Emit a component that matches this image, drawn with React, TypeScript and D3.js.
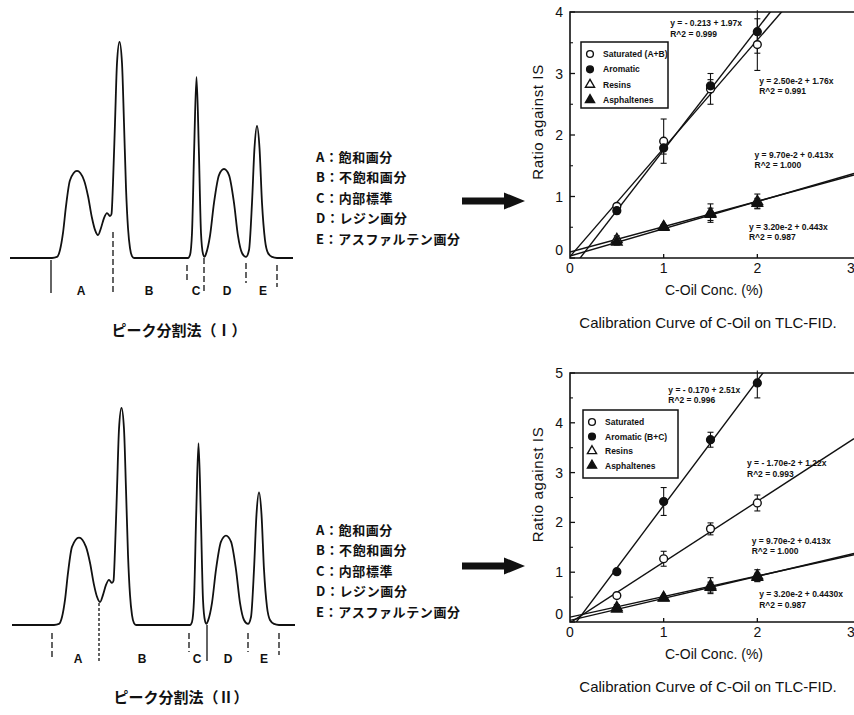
import React from "react";
import * as d3 from "d3";

// chromatogram trace: [retention, signal] (B peak = 100)
const trace: [number, number][] = [
  [0, 0], [42, 0], [47, 0.5], [50, 3.7], [53, 11.6], [56, 24], [60, 36], [67, 40.3],
  [74, 36], [78, 28.7], [82, 18.5], [85, 13], [88, 10.6], [91, 13.9], [94, 18.5],
  [97, 20.8], [100, 19.4], [101.5, 20.4], [103, 34.7], [105, 62.5], [107, 90.3],
  [109.5, 100], [112, 90.3], [114, 62.5], [116, 32.4], [118, 13.9], [120, 4.6],
  [122, 0.9], [124, 0], [178, 0], [180, 1.4], [182, 11.6], [184.2, 51], [186.5, 83.8],
  [188.8, 51], [191, 11.6], [193, 1.9], [194.5, 0.5], [196, 1.9], [200, 10.2],
  [204, 25.5], [209, 38.4], [214, 41.2], [219, 38.4], [224, 25.5], [228, 10.2],
  [232, 2.3], [236, 0.5], [239, 3.7], [242, 25.5], [244.5, 51], [247, 61.1],
  [249.5, 51], [252, 25.5], [255, 8.3], [258, 2.3], [262, 0.5], [267, 0], [283, 0],
];

const fractionLetters = ["A", "B", "C", "D", "E"];
const fractionNames = ["飽和画分", "不飽和画分", "内部標準", "レジン画分", "アスファルテン画分"];

// cut marks: [retention, from signal, to signal, dash]
const cutsI: [number, number, number, string][] = [
  [41, -0.9, -16.2, ""], [103, 12, -16.2, "6,3"], [177, -3.2, -11.6, "6,3"],
  [194, 0, -16.2, "6,3"], [236, -2.3, -11.6, "6,3"], [267, -3.2, -13.4, "6,3"],
];
const cutsII: [number, number, number, string][] = [
  [40, -3.7, -15.2, "6,3"], [87, 10.1, -17.1, "3,2"], [177, -3.7, -12.4, "6,3"],
  [195, 0, -16.6, ""], [236, -3.7, -12.4, "6,3"], [267, -3.7, -13.8, "6,3"],
];
const letterPosI = [71, 139, 186, 217, 253];
const letterPosII = [66, 130, 185, 216, 252];

// calibration data
const conc = [0.5, 1, 1.5, 2];
const namesI = ["Saturated (A+B)", "Aromatic", "Resins", "Asphaltenes"];
const namesII = ["Saturated", "Aromatic (B+C)", "Resins", "Asphaltenes"];

const satI = [0.84, 1.9, 2.75, 3.47];
const satErrI = [0.04, 0.36, 0.25, 0.42];
const aroI = [0.77, 1.79, 2.8, 3.68];
const aroErrI = [0.05, 0.1, 0.1, 0.35];
const resI = [0.3, 0.51, 0.73, 0.92];
const resErrI = [0.06, 0.03, 0.15, 0.12];
const aspI = [0.26, 0.5, 0.71, 0.89];
const aspErrI = [0.05, 0.03, 0.1, 0.08];
const fitsI = [[-0.213, 1.97], [0.025, 1.76], [0.097, 0.413], [0.032, 0.443]];
const eqTextI = [
  ["y = - 0.213 + 1.97x", "R^2 = 0.999"],
  ["y = 2.50e-2 + 1.76x", "R^2 = 0.991"],
  ["y = 9.70e-2 + 0.413x", "R^2 = 1.000"],
  ["y = 3.20e-2 + 0.443x", "R^2 = 0.987"],
];
const eqPosI = [[1.07, 3.77], [2.02, 2.83], [1.97, 1.63], [1.91, 0.46]];

const satII = [0.53, 1.27, 1.87, 2.39];
const satErrII = [0.03, 0.15, 0.12, 0.16];
const aroII = [1.01, 2.42, 3.66, 4.8];
const aroErrII = [0.03, 0.28, 0.15, 0.3];
const resII = [0.29, 0.49, 0.73, 0.93];
const resErrII = [0.06, 0.03, 0.16, 0.12];
const aspII = [0.26, 0.48, 0.7, 0.9];
const aspErrII = [0.04, 0.03, 0.1, 0.08];
const fitsII = [[-0.17, 2.51], [-0.017, 1.22], [0.097, 0.413], [0.032, 0.443]];
const eqTextII = [
  ["y = - 0.170 + 2.51x", "R^2 = 0.996"],
  ["y = - 1.70e-2 + 1.22x", "R^2 = 0.993"],
  ["y = 9.70e-2 + 0.413x", "R^2 = 1.000"],
  ["y = 3.20e-2 + 0.4430x", "R^2 = 0.987"],
];
const eqPosII = [[1.05, 4.6], [1.89, 3.13], [1.94, 1.57], [2.02, 0.5]];

const markerKinds = ["circle-open", "circle", "triangle-open", "triangle"];

const EN = "'Liberation Sans', Arial, Helvetica, sans-serif";
const JP = "'Noto Sans CJK JP', 'Noto Sans CJK SC', sans-serif";
const INK = "#111";

const Marker = ({ kind, cx, cy, size = 48 }: any) => {
  const type = kind.startsWith("circle") ? d3.symbolCircle : d3.symbolTriangle;
  const open = kind.endsWith("open");
  return (
    <path
      d={d3.symbol().type(type).size(size)() as string}
      transform={`translate(${cx},${cy})`}
      fill={open ? "#fff" : INK}
      stroke={INK}
      strokeWidth={1.4}
    />
  );
};

const Chromatogram = ({ base, left, right, top, cuts, letterPos, caption, captionX, captionY }: any) => {
  const x = d3.scaleLinear().domain([0, 283]).range([left, right]);
  const y = d3.scaleLinear().domain([0, 100]).range([base, top]);
  const line = d3
    .line<[number, number]>()
    .x((d) => x(d[0]))
    .y((d) => y(d[1]))
    .curve(d3.curveMonotoneX);
  return (
    <g>
      <path d={line(trace) as string} fill="none" stroke={INK} strokeWidth={1.8} strokeLinejoin="round" />
      {cuts.map((c: any, i: number) => (
        <line key={i} x1={x(c[0])} x2={x(c[0])} y1={y(c[1])} y2={y(c[2])}
          stroke={INK} strokeWidth={1.3} strokeDasharray={c[3] || undefined} />
      ))}
      {fractionLetters.map((l, i) => (
        <text key={l} x={x(letterPos[i])} y={y(-17.3)} textAnchor="middle"
          fontFamily={EN} fontWeight="bold" fontSize={12} fill={INK}>{l}</text>
      ))}
      <text x={captionX} y={captionY} textAnchor="middle" fontFamily={JP}
        fontWeight="bold" fontSize={15} fill={INK}>{caption}</text>
    </g>
  );
};

const FractionList = ({ x0, y0 }: any) => (
  <g fontFamily={JP} fontSize={13} fontWeight="bold" fill={INK}>
    {fractionLetters.map((l, i) => (
      <text key={l} x={x0} y={y0 + i * 20.4} letterSpacing={0.6}>
        {l}：{fractionNames[i]}
      </text>
    ))}
  </g>
);

const Arrow = ({ x0, y }: any) => (
  <path
    d={`M${x0},${y - 3.5} L${x0 + 42},${y - 3.5} L${x0 + 42},${y - 8.5} L${x0 + 63},${y} L${x0 + 42},${y + 8.5} L${x0 + 42},${y + 3.5} L${x0},${y + 3.5} Z`}
    fill={INK}
  />
);

const Calib = ({ id, yMax, yBottom, yTop, ys, errs, fits, eqText, eqPos, names, legend }: any) => {
  const x = d3.scaleLinear().domain([0, 3]).range([570, 851]);
  const y = d3.scaleLinear().domain([0, yMax]).range([yBottom, yTop]);
  const xEnd = x.invert(854);
  const majors = d3.range(0, yMax + 1);
  const minors = d3.range(0.5, yMax, 1);
  const fitLine = (f: number[]) =>
    d3.line<number>().x((v) => x(v)).y((v) => y(f[0] + f[1] * v))([0, xEnd]) as string;
  const midY = (yTop + yBottom) / 2;
  return (
    <g>
      <defs>
        <clipPath id={id}>
          <rect x={570} y={yTop} width={284} height={yBottom - yTop} />
        </clipPath>
      </defs>
      {/* frame */}
      <path d={`M854,${yTop} H570 V${yBottom} H854`} fill="none" stroke={INK} strokeWidth={1.6} />
      {majors.map((v: number) => (
        <line key={"m" + v} x1={570} x2={575} y1={y(v)} y2={y(v)} stroke={INK} strokeWidth={1.3} />
      ))}
      {minors.map((v: number) => (
        <line key={"n" + v} x1={570} x2={573} y1={y(v)} y2={y(v)} stroke={INK} strokeWidth={1.1} />
      ))}
      {[1, 2].map((v) => (
        <line key={"x" + v} x1={x(v)} x2={x(v)} y1={yBottom} y2={yBottom - 4} stroke={INK} strokeWidth={1.3} />
      ))}
      {majors.map((v: number) => (
        <text key={"t" + v} x={563} y={v === 0 ? y(v) - 3 : y(v) + 5} textAnchor="end"
          fontFamily={EN} fontSize={14} fill={INK}>{v}</text>
      ))}
      {[0, 1, 2, 3].map((v) => (
        <text key={"xt" + v} x={x(v)} y={yBottom + 15} textAnchor="middle"
          fontFamily={EN} fontSize={14} fill={INK}>{v}</text>
      ))}
      <text transform={`translate(543,${midY - 13}) rotate(-90)`} textAnchor="middle"
        fontFamily={EN} fontSize={15} letterSpacing={0.6} fill={INK}>Ratio against IS</text>
      <text x={714} y={yBottom + 37} textAnchor="middle" fontFamily={EN} fontSize={14} fill={INK}>
        C-Oil Conc. (%)
      </text>
      <text x={708} y={yBottom + 70} textAnchor="middle" fontFamily={EN} fontSize={15} fill={INK}>
        Calibration Curve of C-Oil on TLC-FID.
      </text>

      <g clipPath={`url(#${id})`}>
        {fits.map((f: number[], i: number) => (
          <path key={i} d={fitLine(f)} fill="none" stroke={INK} strokeWidth={1.4} />
        ))}
      </g>
      {ys.map((s: number[], k: number) =>
        s.map((v: number, i: number) => (
          <g key={k + "-" + i}>
            <line x1={x(conc[i])} x2={x(conc[i])} y1={y(v - errs[k][i])} y2={y(Math.min(v + errs[k][i], yMax + 0.05))}
              stroke={INK} strokeWidth={1.1} />
            <line x1={x(conc[i]) - 3} x2={x(conc[i]) + 3} y1={y(v - errs[k][i])} y2={y(v - errs[k][i])}
              stroke={INK} strokeWidth={1.1} />
            {v + errs[k][i] <= yMax && (
              <line x1={x(conc[i]) - 3} x2={x(conc[i]) + 3} y1={y(v + errs[k][i])} y2={y(v + errs[k][i])}
                stroke={INK} strokeWidth={1.1} />
            )}
          </g>
        ))
      )}
      {ys.map((s: number[], k: number) =>
        s.map((v: number, i: number) => (
          <Marker key={"p" + k + "-" + i} kind={markerKinds[k]} cx={x(conc[i])} cy={y(v)} />
        ))
      )}
      {eqText.map((t: string[], i: number) => (
        <g key={"eq" + i} fontFamily={EN} fontWeight="bold" fontSize={8.5} fill={INK}>
          <text x={x(eqPos[i][0])} y={y(eqPos[i][1])}>{t[0]}</text>
          <text x={x(eqPos[i][0])} y={y(eqPos[i][1]) + 10.5}>{t[1]}</text>
        </g>
      ))}
      {/* legend */}
      <rect x={legend.x} y={legend.y} width={legend.w} height={legend.h} fill="#fff" stroke={INK} strokeWidth={1.5} />
      {names.map((n: string, i: number) => (
        <g key={n}>
          <Marker kind={markerKinds[i]} cx={legend.x + 9} cy={legend.y + 12 + i * legend.step} size={36} />
          <text x={legend.x + 22} y={legend.y + 15 + i * legend.step} fontFamily={EN} fontWeight="bold"
            fontSize={8.5} fill={INK}>{n}</text>
        </g>
      ))}
    </g>
  );
};

export default function App() {
  return (
    <svg width={854} height={715} style={{ position: "absolute", left: 0, top: 0, background: "#fff" }}>
      <rect width={854} height={715} fill="#fff" />
      <Chromatogram base={258} left={10} right={293} top={42} cuts={cutsI} letterPos={letterPosI}
        caption="ピーク分割法（Ⅰ）" captionX={179} captionY={336} />
      <Chromatogram base={625} left={12} right={295} top={408} cuts={cutsII} letterPos={letterPosII}
        caption="ピーク分割法（Ⅱ）" captionX={181} captionY={703} />
      <FractionList x0={316} y0={162} />
      <FractionList x0={316} y0={535} />
      <Arrow x0={462} y={201} />
      <Arrow x0={462} y={566} />
      <Calib id="clipI" yMax={4} yBottom={258} yTop={12}
        ys={[satI, aroI, resI, aspI]} errs={[satErrI, aroErrI, resErrI, aspErrI]}
        fits={fitsI} eqText={eqTextI} eqPos={eqPosI} names={namesI}
        legend={{ x: 581, y: 42, w: 87, h: 66, step: 15.3 }} />
      <Calib id="clipII" yMax={5} yBottom={622} yTop={373}
        ys={[satII, aroII, resII, aspII]} errs={[satErrII, aroErrII, resErrII, aspErrII]}
        fits={fitsII} eqText={eqTextII} eqPos={eqPosII} names={namesII}
        legend={{ x: 583, y: 410, w: 95, h: 68, step: 14.5 }} />
    </svg>
  );
}
